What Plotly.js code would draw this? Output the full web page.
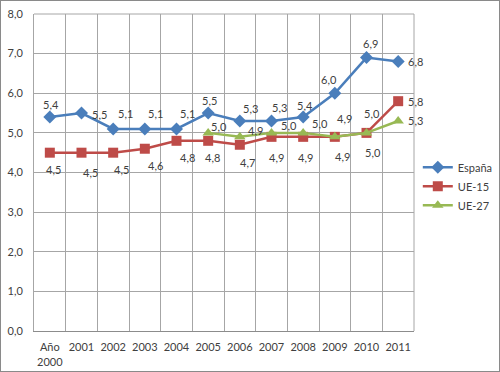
<!DOCTYPE html>
<html>
<head>
<meta charset="utf-8">
<script src="https://cdn.plot.ly/plotly-3.0.1.min.js"></script>
<style>
html,body{margin:0;padding:0;background:#fff;}
#wrap{position:relative;width:500px;height:372px;}
#chart{width:500px;height:372px;}
#frame{position:absolute;left:0;top:0;width:500px;height:372px;box-sizing:border-box;border:1px solid #8a8a8a;pointer-events:none;}
</style>
</head>
<body>
<div id="wrap"><div id="chart"></div><div id="frame"></div></div>
<script>
const years = ["Año<br>2000","2001","2002","2003","2004","2005","2006","2007","2008","2009","2010","2011"];
const espana = [5.4,5.5,5.1,5.1,5.1,5.5,5.3,5.3,5.4,6.0,6.9,6.8];
const ue15 = [4.5,4.5,4.5,4.6,4.8,4.8,4.7,4.9,4.9,4.9,5.0,5.8];
const ue27 = [null,null,null,null,null,5.0,4.9,5.0,5.0,4.9,5.0,5.3];

// label offsets in pixels (dx, dy) relative to each point; dy positive = down
const offEsp = [[1,-13],[18,1],[12,-15],[11,-15],[11,-15],[1,-13],[11,-12],[8,-13],[2,-12],[-6,-14],[4,-14],[17,0]];
const offU15 = [[4,17],[9,20],[8,17],[11,17],[11,17],[4,17],[8,18],[5,21],[2,21],[8,20],[5,-19],[17,0]];
const offU27 = [null,null,null,null,null,[11,-6],[16,-6],[17,-7],[17,-9],[10,-18],[6,20],[17,0]];

const fmt = v => v.toFixed(1).replace(".", ",");
const fam = "Lato, 'Open Sans', sans-serif";
const txtFont = {family:fam, size:11, color:"#404040"};

const traces = [
  {name:"España", x:years, y:espana, type:"scatter", mode:"lines+markers",
   line:{color:"#4A7EBB", width:2.5}, marker:{symbol:"diamond", size:10, color:"#4A7EBB"}},
  {name:"UE-15", x:years, y:ue15, type:"scatter", mode:"lines+markers",
   line:{color:"#BE4B48", width:2.5}, marker:{symbol:"square", size:10, color:"#BE4B48"}},
  {name:"UE-27", x:years, y:ue27, type:"scatter", mode:"lines+markers",
   line:{color:"#98B954", width:2.5}, marker:{symbol:"triangle-up", size:10, color:"#98B954"}}
];

const annotations = [];
function addLabels(vals, offs){
  vals.forEach((v,i)=>{
    if (v == null) return;
    annotations.push({x:i, y:v, xref:"x", yref:"y", text:fmt(v), showarrow:false,
      xshift:offs[i][0], yshift:-offs[i][1], font:txtFont, xanchor:"center", yanchor:"middle"});
  });
}
addLabels(espana, offEsp);
addLabels(ue15, offU15);
addLabels(ue27, offU27);

const layout = {
  width:500, height:372,
  margin:{l:34, r:86, t:14, b:41, autoexpand:false},
  paper_bgcolor:"#fff", plot_bgcolor:"#fff",
  separators:",.",
  font:{family:fam, size:11, color:"#404040"},
  showlegend:true,
  legend:{x:1.01, y:0.562, xanchor:"left", yanchor:"top", font:{size:11, color:"#404040"},
          bgcolor:"rgba(0,0,0,0)", tracegroupgap:0, itemwidth:30},
  xaxis:{type:"category", tickson:"boundaries", showgrid:true, gridcolor:"#a6a6a6", gridwidth:1,
         showline:true, linecolor:"#8c8c8c", ticks:"", tickangle:0, tickfont:{size:11, color:"#404040"},
         ticklabelstandoff:6, range:[-0.5, 11.5], fixedrange:true, automargin:false},
  yaxis:{range:[0,8], dtick:1, tickformat:".1f", showgrid:true, gridcolor:"#a6a6a6", gridwidth:1,
         showline:true, linecolor:"#a6a6a6", zeroline:false, ticks:"", tickfont:{size:11, color:"#404040"},
         ticklabelstandoff:8, fixedrange:true, automargin:false},
  annotations: annotations,
  shapes:[{type:"line", xref:"paper", yref:"paper", x0:1, x1:1, y0:0, y1:1, line:{color:"#a6a6a6", width:1}},
          {type:"line", xref:"paper", yref:"paper", x0:0, x1:1, y0:1, y1:1, line:{color:"#a6a6a6", width:1}}]
};

Plotly.newPlot("chart", traces, layout, {displayModeBar:false, staticPlot:true});
</script>
</body>
</html>
